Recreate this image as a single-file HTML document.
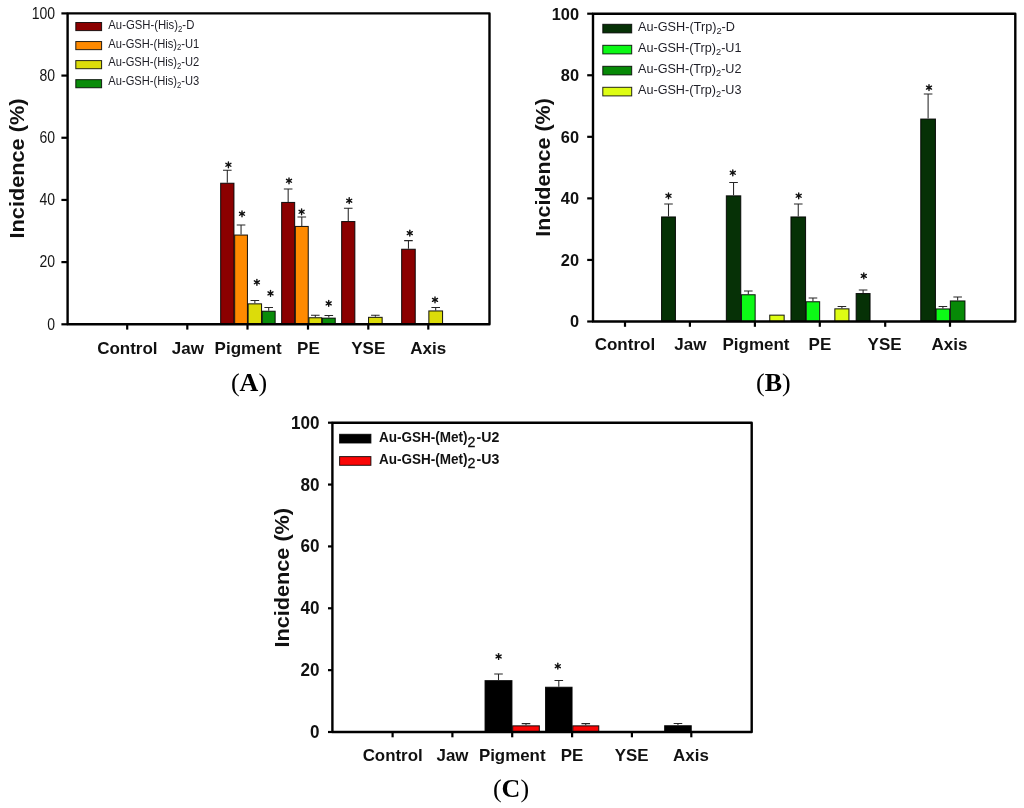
<!DOCTYPE html><html><head><meta charset="utf-8"><title>Incidence charts</title>
<style>html,body{margin:0;padding:0;background:#fff}body{width:1024px;height:808px;overflow:hidden}svg{display:block;filter:blur(0.45px)}</style></head><body>
<svg width="1024" height="808" viewBox="0 0 1024 808">
<rect width="1024" height="808" fill="#fff"/>
<rect x="220.65" y="183.25" width="13.30" height="141.05" fill="#8b0000" stroke="#000" stroke-opacity="0.88" stroke-width="1.05"/>
<path d="M227.30 182.70V170.30M223.00 170.30H231.60" stroke="#262626" stroke-width="1.05" fill="none"/>
<g stroke="#111" stroke-width="1.4" stroke-linecap="round"><line x1="228.40" y1="161.90" x2="228.40" y2="167.70"/><line x1="225.89" y1="163.35" x2="230.91" y2="166.25"/><line x1="225.89" y1="166.25" x2="230.91" y2="163.35"/></g><circle cx="228.4" cy="164.8" r="1.2" fill="#111"/>
<rect x="234.65" y="235.05" width="12.80" height="89.25" fill="#ff8a00" stroke="#000" stroke-opacity="0.88" stroke-width="1.05"/>
<path d="M241.05 234.50V224.90M236.75 224.90H245.35" stroke="#262626" stroke-width="1.05" fill="none"/>
<g stroke="#111" stroke-width="1.4" stroke-linecap="round"><line x1="242.00" y1="210.90" x2="242.00" y2="216.70"/><line x1="239.49" y1="212.35" x2="244.51" y2="215.25"/><line x1="239.49" y1="215.25" x2="244.51" y2="212.35"/></g><circle cx="242.0" cy="213.8" r="1.2" fill="#111"/>
<rect x="248.15" y="303.85" width="13.40" height="20.45" fill="#dcdc0a" stroke="#000" stroke-opacity="0.88" stroke-width="1.05"/>
<path d="M254.85 303.30V300.50M250.55 300.50H259.15" stroke="#262626" stroke-width="1.05" fill="none"/>
<g stroke="#111" stroke-width="1.4" stroke-linecap="round"><line x1="256.90" y1="279.40" x2="256.90" y2="285.20"/><line x1="254.39" y1="280.85" x2="259.41" y2="283.75"/><line x1="254.39" y1="283.75" x2="259.41" y2="280.85"/></g><circle cx="256.9" cy="282.3" r="1.2" fill="#111"/>
<rect x="262.25" y="311.25" width="12.90" height="13.05" fill="#0a8c0a" stroke="#000" stroke-opacity="0.88" stroke-width="1.05"/>
<path d="M268.70 310.70V307.50M264.40 307.50H273.00" stroke="#262626" stroke-width="1.05" fill="none"/>
<g stroke="#111" stroke-width="1.4" stroke-linecap="round"><line x1="270.50" y1="290.50" x2="270.50" y2="296.30"/><line x1="267.99" y1="291.95" x2="273.01" y2="294.85"/><line x1="267.99" y1="294.85" x2="273.01" y2="291.95"/></g><circle cx="270.5" cy="293.4" r="1.2" fill="#111"/>
<rect x="281.65" y="202.45" width="13.00" height="121.85" fill="#8b0000" stroke="#000" stroke-opacity="0.88" stroke-width="1.05"/>
<path d="M288.15 201.90V189.00M283.85 189.00H292.45" stroke="#262626" stroke-width="1.05" fill="none"/>
<g stroke="#111" stroke-width="1.4" stroke-linecap="round"><line x1="289.00" y1="177.90" x2="289.00" y2="183.70"/><line x1="286.49" y1="179.35" x2="291.51" y2="182.25"/><line x1="286.49" y1="182.25" x2="291.51" y2="179.35"/></g><circle cx="289.0" cy="180.8" r="1.2" fill="#111"/>
<rect x="295.35" y="226.45" width="12.90" height="97.85" fill="#ff8a00" stroke="#000" stroke-opacity="0.88" stroke-width="1.05"/>
<path d="M301.80 225.90V217.00M297.50 217.00H306.10" stroke="#262626" stroke-width="1.05" fill="none"/>
<g stroke="#111" stroke-width="1.4" stroke-linecap="round"><line x1="301.60" y1="208.90" x2="301.60" y2="214.70"/><line x1="299.09" y1="210.35" x2="304.11" y2="213.25"/><line x1="299.09" y1="213.25" x2="304.11" y2="210.35"/></g><circle cx="301.6" cy="211.8" r="1.2" fill="#111"/>
<rect x="308.95" y="317.75" width="12.70" height="6.55" fill="#dcdc0a" stroke="#000" stroke-opacity="0.88" stroke-width="1.05"/>
<path d="M315.30 317.20V315.20M311.00 315.20H319.60" stroke="#262626" stroke-width="1.05" fill="none"/>
<rect x="322.35" y="318.15" width="12.90" height="6.15" fill="#0a8c0a" stroke="#000" stroke-opacity="0.88" stroke-width="1.05"/>
<path d="M328.80 317.60V315.50M324.50 315.50H333.10" stroke="#262626" stroke-width="1.05" fill="none"/>
<g stroke="#111" stroke-width="1.4" stroke-linecap="round"><line x1="328.70" y1="300.50" x2="328.70" y2="306.30"/><line x1="326.19" y1="301.95" x2="331.21" y2="304.85"/><line x1="326.19" y1="304.85" x2="331.21" y2="301.95"/></g><circle cx="328.7" cy="303.4" r="1.2" fill="#111"/>
<rect x="341.65" y="221.55" width="13.20" height="102.75" fill="#8b0000" stroke="#000" stroke-opacity="0.88" stroke-width="1.05"/>
<path d="M348.25 221.00V208.20M343.95 208.20H352.55" stroke="#262626" stroke-width="1.05" fill="none"/>
<g stroke="#111" stroke-width="1.4" stroke-linecap="round"><line x1="349.20" y1="197.80" x2="349.20" y2="203.60"/><line x1="346.69" y1="199.25" x2="351.71" y2="202.15"/><line x1="346.69" y1="202.15" x2="351.71" y2="199.25"/></g><circle cx="349.2" cy="200.7" r="1.2" fill="#111"/>
<rect x="368.55" y="317.35" width="13.60" height="6.95" fill="#dcdc0a" stroke="#000" stroke-opacity="0.88" stroke-width="1.05"/>
<path d="M375.35 316.80V315.20M371.05 315.20H379.65" stroke="#262626" stroke-width="1.05" fill="none"/>
<rect x="401.65" y="249.25" width="13.60" height="75.05" fill="#8b0000" stroke="#000" stroke-opacity="0.88" stroke-width="1.05"/>
<path d="M408.45 248.70V240.60M404.15 240.60H412.75" stroke="#262626" stroke-width="1.05" fill="none"/>
<g stroke="#111" stroke-width="1.4" stroke-linecap="round"><line x1="409.80" y1="230.20" x2="409.80" y2="236.00"/><line x1="407.29" y1="231.65" x2="412.31" y2="234.55"/><line x1="407.29" y1="234.55" x2="412.31" y2="231.65"/></g><circle cx="409.8" cy="233.1" r="1.2" fill="#111"/>
<rect x="428.85" y="310.95" width="13.70" height="13.35" fill="#dcdc0a" stroke="#000" stroke-opacity="0.88" stroke-width="1.05"/>
<path d="M435.70 310.40V307.40M431.40 307.40H440.00" stroke="#262626" stroke-width="1.05" fill="none"/>
<g stroke="#111" stroke-width="1.4" stroke-linecap="round"><line x1="435.00" y1="297.00" x2="435.00" y2="302.80"/><line x1="432.49" y1="298.45" x2="437.51" y2="301.35"/><line x1="432.49" y1="301.35" x2="437.51" y2="298.45"/></g><circle cx="435.0" cy="299.9" r="1.2" fill="#111"/>
<rect x="67.6" y="13.4" width="421.90" height="310.90" fill="none" stroke="#000" stroke-width="2.4" stroke-linejoin="round"/>
<line x1="61.4" y1="324.3" x2="67.6" y2="324.3" stroke="#000" stroke-width="2.2"/>
<text x="55.1" y="329.6" font-family='"Liberation Sans", sans-serif' font-size="15.6" font-weight="normal" text-anchor="end" fill="#151515" textLength="7.8" lengthAdjust="spacingAndGlyphs" >0</text>
<line x1="61.4" y1="262.12" x2="67.6" y2="262.12" stroke="#000" stroke-width="2.2"/>
<text x="55.1" y="267.42" font-family='"Liberation Sans", sans-serif' font-size="15.6" font-weight="normal" text-anchor="end" fill="#151515" textLength="15.6" lengthAdjust="spacingAndGlyphs" >20</text>
<line x1="61.4" y1="199.94" x2="67.6" y2="199.94" stroke="#000" stroke-width="2.2"/>
<text x="55.1" y="205.24" font-family='"Liberation Sans", sans-serif' font-size="15.6" font-weight="normal" text-anchor="end" fill="#151515" textLength="15.6" lengthAdjust="spacingAndGlyphs" >40</text>
<line x1="61.4" y1="137.76000000000002" x2="67.6" y2="137.76000000000002" stroke="#000" stroke-width="2.2"/>
<text x="55.1" y="143.06000000000003" font-family='"Liberation Sans", sans-serif' font-size="15.6" font-weight="normal" text-anchor="end" fill="#151515" textLength="15.6" lengthAdjust="spacingAndGlyphs" >60</text>
<line x1="61.4" y1="75.58000000000001" x2="67.6" y2="75.58000000000001" stroke="#000" stroke-width="2.2"/>
<text x="55.1" y="80.88000000000001" font-family='"Liberation Sans", sans-serif' font-size="15.6" font-weight="normal" text-anchor="end" fill="#151515" textLength="15.6" lengthAdjust="spacingAndGlyphs" >80</text>
<line x1="61.4" y1="13.400000000000034" x2="67.6" y2="13.400000000000034" stroke="#000" stroke-width="2.2"/>
<text x="55.1" y="18.700000000000035" font-family='"Liberation Sans", sans-serif' font-size="15.6" font-weight="normal" text-anchor="end" fill="#151515" textLength="23.4" lengthAdjust="spacingAndGlyphs" >100</text>
<line x1="127.2" y1="324.3" x2="127.2" y2="329.6" stroke="#000" stroke-width="2.2"/>
<line x1="187.3" y1="324.3" x2="187.3" y2="329.6" stroke="#000" stroke-width="2.2"/>
<line x1="247.5" y1="324.3" x2="247.5" y2="329.6" stroke="#000" stroke-width="2.2"/>
<line x1="308.0" y1="324.3" x2="308.0" y2="329.6" stroke="#000" stroke-width="2.2"/>
<line x1="368.3" y1="324.3" x2="368.3" y2="329.6" stroke="#000" stroke-width="2.2"/>
<line x1="428.3" y1="324.3" x2="428.3" y2="329.6" stroke="#000" stroke-width="2.2"/>
<text x="127.35" y="353.9" font-family='"Liberation Sans", sans-serif' font-size="17" font-weight="bold" text-anchor="middle" fill="#111" >Control</text>
<text x="187.9" y="353.9" font-family='"Liberation Sans", sans-serif' font-size="17" font-weight="bold" text-anchor="middle" fill="#111" >Jaw</text>
<text x="248.15" y="353.9" font-family='"Liberation Sans", sans-serif' font-size="17" font-weight="bold" text-anchor="middle" fill="#111" >Pigment</text>
<text x="308.4" y="353.9" font-family='"Liberation Sans", sans-serif' font-size="17" font-weight="bold" text-anchor="middle" fill="#111" >PE</text>
<text x="368.3" y="353.9" font-family='"Liberation Sans", sans-serif' font-size="17" font-weight="bold" text-anchor="middle" fill="#111" >YSE</text>
<text x="428.15" y="353.9" font-family='"Liberation Sans", sans-serif' font-size="17" font-weight="bold" text-anchor="middle" fill="#111" >Axis</text>
<text transform="translate(24.4,168.5) rotate(-90)" font-family='"Liberation Sans", sans-serif' font-size="20" font-weight="bold" text-anchor="middle" fill="#111" textLength="140" lengthAdjust="spacingAndGlyphs">Incidence (%)</text>
<rect x="75.8" y="22.50" width="25.8" height="8.1" fill="#8b0000" stroke="#000" stroke-opacity="0.85" stroke-width="1"/>
<text x="108.3" y="28.9" font-family='"Liberation Sans", sans-serif' font-size="13.5" font-weight="normal" text-anchor="start" fill="#1e1e26" textLength="86" lengthAdjust="spacingAndGlyphs" >Au-GSH-(His)<tspan font-size="9.3" dy="2.8">2</tspan><tspan dy="-2.8">-D</tspan></text>
<rect x="75.8" y="41.55" width="25.8" height="8.1" fill="#ff8a00" stroke="#000" stroke-opacity="0.85" stroke-width="1"/>
<text x="108.3" y="47.5" font-family='"Liberation Sans", sans-serif' font-size="13.5" font-weight="normal" text-anchor="start" fill="#1e1e26" textLength="91" lengthAdjust="spacingAndGlyphs" >Au-GSH-(His)<tspan font-size="9.3" dy="2.8">2</tspan><tspan dy="-2.8">-U1</tspan></text>
<rect x="75.8" y="60.60" width="25.8" height="8.1" fill="#dcdc0a" stroke="#000" stroke-opacity="0.85" stroke-width="1"/>
<text x="108.3" y="66.1" font-family='"Liberation Sans", sans-serif' font-size="13.5" font-weight="normal" text-anchor="start" fill="#1e1e26" textLength="91" lengthAdjust="spacingAndGlyphs" >Au-GSH-(His)<tspan font-size="9.3" dy="2.8">2</tspan><tspan dy="-2.8">-U2</tspan></text>
<rect x="75.8" y="79.65" width="25.8" height="8.1" fill="#0a8c0a" stroke="#000" stroke-opacity="0.85" stroke-width="1"/>
<text x="108.3" y="84.7" font-family='"Liberation Sans", sans-serif' font-size="13.5" font-weight="normal" text-anchor="start" fill="#1e1e26" textLength="91" lengthAdjust="spacingAndGlyphs" >Au-GSH-(His)<tspan font-size="9.3" dy="2.8">2</tspan><tspan dy="-2.8">-U3</tspan></text>
<text x="249" y="390.7" font-family='"Liberation Serif", serif' font-size="26" font-weight="normal" text-anchor="middle" fill="#000" >(<tspan font-weight="bold">A</tspan>)</text>
<rect x="661.55" y="216.95" width="13.90" height="104.55" fill="#063106" stroke="#000" stroke-opacity="0.88" stroke-width="1.05"/>
<path d="M668.50 216.40V204.00M664.20 204.00H672.80" stroke="#262626" stroke-width="1.05" fill="none"/>
<g stroke="#111" stroke-width="1.4" stroke-linecap="round"><line x1="668.50" y1="192.90" x2="668.50" y2="198.70"/><line x1="665.99" y1="194.35" x2="671.01" y2="197.25"/><line x1="665.99" y1="197.25" x2="671.01" y2="194.35"/></g><circle cx="668.5" cy="195.8" r="1.2" fill="#111"/>
<rect x="726.35" y="195.85" width="14.40" height="125.65" fill="#063106" stroke="#000" stroke-opacity="0.88" stroke-width="1.05"/>
<path d="M733.55 195.30V182.40M729.25 182.40H737.85" stroke="#262626" stroke-width="1.05" fill="none"/>
<g stroke="#111" stroke-width="1.4" stroke-linecap="round"><line x1="732.80" y1="169.90" x2="732.80" y2="175.70"/><line x1="730.29" y1="171.35" x2="735.31" y2="174.25"/><line x1="730.29" y1="174.25" x2="735.31" y2="171.35"/></g><circle cx="732.8" cy="172.8" r="1.2" fill="#111"/>
<rect x="741.45" y="294.75" width="13.70" height="26.75" fill="#0cf916" stroke="#000" stroke-opacity="0.88" stroke-width="1.05"/>
<path d="M748.30 294.20V290.90M744.00 290.90H752.60" stroke="#262626" stroke-width="1.05" fill="none"/>
<rect x="769.75" y="315.15" width="14.40" height="6.35" fill="#defd14" stroke="#000" stroke-opacity="0.88" stroke-width="1.05"/>
<rect x="790.95" y="216.95" width="14.60" height="104.55" fill="#063106" stroke="#000" stroke-opacity="0.88" stroke-width="1.05"/>
<path d="M798.25 216.40V204.00M793.95 204.00H802.55" stroke="#262626" stroke-width="1.05" fill="none"/>
<g stroke="#111" stroke-width="1.4" stroke-linecap="round"><line x1="798.70" y1="192.90" x2="798.70" y2="198.70"/><line x1="796.19" y1="194.35" x2="801.21" y2="197.25"/><line x1="796.19" y1="197.25" x2="801.21" y2="194.35"/></g><circle cx="798.7" cy="195.8" r="1.2" fill="#111"/>
<rect x="806.25" y="301.75" width="13.40" height="19.75" fill="#0cf916" stroke="#000" stroke-opacity="0.88" stroke-width="1.05"/>
<path d="M812.95 301.20V298.00M808.65 298.00H817.25" stroke="#262626" stroke-width="1.05" fill="none"/>
<rect x="834.85" y="308.85" width="14.10" height="12.65" fill="#defd14" stroke="#000" stroke-opacity="0.88" stroke-width="1.05"/>
<path d="M841.90 308.30V306.40M837.60 306.40H846.20" stroke="#262626" stroke-width="1.05" fill="none"/>
<rect x="856.15" y="293.55" width="13.90" height="27.95" fill="#063106" stroke="#000" stroke-opacity="0.88" stroke-width="1.05"/>
<path d="M863.10 293.00V290.00M858.80 290.00H867.40" stroke="#262626" stroke-width="1.05" fill="none"/>
<g stroke="#111" stroke-width="1.4" stroke-linecap="round"><line x1="863.80" y1="273.00" x2="863.80" y2="278.80"/><line x1="861.29" y1="274.45" x2="866.31" y2="277.35"/><line x1="861.29" y1="277.35" x2="866.31" y2="274.45"/></g><circle cx="863.8" cy="275.9" r="1.2" fill="#111"/>
<rect x="920.75" y="119.05" width="14.70" height="202.45" fill="#063106" stroke="#000" stroke-opacity="0.88" stroke-width="1.05"/>
<path d="M928.10 118.50V94.00M923.80 94.00H932.40" stroke="#262626" stroke-width="1.05" fill="none"/>
<g stroke="#111" stroke-width="1.4" stroke-linecap="round"><line x1="929.00" y1="84.70" x2="929.00" y2="90.50"/><line x1="926.49" y1="86.15" x2="931.51" y2="89.05"/><line x1="926.49" y1="89.05" x2="931.51" y2="86.15"/></g><circle cx="929.0" cy="87.6" r="1.2" fill="#111"/>
<rect x="936.15" y="308.95" width="13.50" height="12.55" fill="#0cf916" stroke="#000" stroke-opacity="0.88" stroke-width="1.05"/>
<path d="M942.90 308.40V306.40M938.60 306.40H947.20" stroke="#262626" stroke-width="1.05" fill="none"/>
<rect x="950.35" y="300.95" width="14.60" height="20.55" fill="#078907" stroke="#000" stroke-opacity="0.88" stroke-width="1.05"/>
<path d="M957.65 300.40V297.00M953.35 297.00H961.95" stroke="#262626" stroke-width="1.05" fill="none"/>
<rect x="593.0" y="13.7" width="422.30" height="307.80" fill="none" stroke="#000" stroke-width="2.4" stroke-linejoin="round"/>
<line x1="587.2" y1="321.5" x2="593.0" y2="321.5" stroke="#000" stroke-width="2.2"/>
<text x="579.0" y="327.4" font-family='"Liberation Sans", sans-serif' font-size="17.2" font-weight="bold" text-anchor="end" fill="#111" textLength="9.1" lengthAdjust="spacingAndGlyphs" >0</text>
<line x1="587.2" y1="259.94" x2="593.0" y2="259.94" stroke="#000" stroke-width="2.2"/>
<text x="579.0" y="265.84" font-family='"Liberation Sans", sans-serif' font-size="17.2" font-weight="bold" text-anchor="end" fill="#111" textLength="18.2" lengthAdjust="spacingAndGlyphs" >20</text>
<line x1="587.2" y1="198.38" x2="593.0" y2="198.38" stroke="#000" stroke-width="2.2"/>
<text x="579.0" y="204.28" font-family='"Liberation Sans", sans-serif' font-size="17.2" font-weight="bold" text-anchor="end" fill="#111" textLength="18.2" lengthAdjust="spacingAndGlyphs" >40</text>
<line x1="587.2" y1="136.82000000000002" x2="593.0" y2="136.82000000000002" stroke="#000" stroke-width="2.2"/>
<text x="579.0" y="142.72000000000003" font-family='"Liberation Sans", sans-serif' font-size="17.2" font-weight="bold" text-anchor="end" fill="#111" textLength="18.2" lengthAdjust="spacingAndGlyphs" >60</text>
<line x1="587.2" y1="75.26000000000002" x2="593.0" y2="75.26000000000002" stroke="#000" stroke-width="2.2"/>
<text x="579.0" y="81.16000000000003" font-family='"Liberation Sans", sans-serif' font-size="17.2" font-weight="bold" text-anchor="end" fill="#111" textLength="18.2" lengthAdjust="spacingAndGlyphs" >80</text>
<line x1="587.2" y1="13.699999999999989" x2="593.0" y2="13.699999999999989" stroke="#000" stroke-width="2.2"/>
<text x="579.0" y="19.599999999999987" font-family='"Liberation Sans", sans-serif' font-size="17.2" font-weight="bold" text-anchor="end" fill="#111" textLength="27.3" lengthAdjust="spacingAndGlyphs" >100</text>
<line x1="625.0" y1="321.5" x2="625.0" y2="326.8" stroke="#000" stroke-width="2.2"/>
<line x1="689.9" y1="321.5" x2="689.9" y2="326.8" stroke="#000" stroke-width="2.2"/>
<line x1="754.9" y1="321.5" x2="754.9" y2="326.8" stroke="#000" stroke-width="2.2"/>
<line x1="819.8" y1="321.5" x2="819.8" y2="326.8" stroke="#000" stroke-width="2.2"/>
<line x1="885.2" y1="321.5" x2="885.2" y2="326.8" stroke="#000" stroke-width="2.2"/>
<line x1="950.0" y1="321.5" x2="950.0" y2="326.8" stroke="#000" stroke-width="2.2"/>
<text x="624.9" y="349.9" font-family='"Liberation Sans", sans-serif' font-size="17" font-weight="bold" text-anchor="middle" fill="#111" >Control</text>
<text x="690.4" y="349.9" font-family='"Liberation Sans", sans-serif' font-size="17" font-weight="bold" text-anchor="middle" fill="#111" >Jaw</text>
<text x="756.0" y="349.9" font-family='"Liberation Sans", sans-serif' font-size="17" font-weight="bold" text-anchor="middle" fill="#111" >Pigment</text>
<text x="819.9" y="349.9" font-family='"Liberation Sans", sans-serif' font-size="17" font-weight="bold" text-anchor="middle" fill="#111" >PE</text>
<text x="884.6" y="349.9" font-family='"Liberation Sans", sans-serif' font-size="17" font-weight="bold" text-anchor="middle" fill="#111" >YSE</text>
<text x="949.4" y="349.9" font-family='"Liberation Sans", sans-serif' font-size="17" font-weight="bold" text-anchor="middle" fill="#111" >Axis</text>
<text transform="translate(550.1,167.4) rotate(-90)" font-family='"Liberation Sans", sans-serif' font-size="20" font-weight="bold" text-anchor="middle" fill="#111" textLength="138.5" lengthAdjust="spacingAndGlyphs">Incidence (%)</text>
<rect x="602.8" y="24.30" width="28.9" height="8.6" fill="#063106" stroke="#000" stroke-opacity="0.85" stroke-width="1"/>
<text x="638.0" y="30.9" font-family='"Liberation Sans", sans-serif' font-size="13.0" font-weight="normal" text-anchor="start" fill="#1e1e26" textLength="97" lengthAdjust="spacingAndGlyphs" >Au-GSH-(Trp)<tspan font-size="9.5" dy="2.8">2</tspan><tspan dy="-2.8">-D</tspan></text>
<rect x="602.8" y="45.30" width="28.9" height="8.6" fill="#0cf916" stroke="#000" stroke-opacity="0.85" stroke-width="1"/>
<text x="638.0" y="51.9" font-family='"Liberation Sans", sans-serif' font-size="13.0" font-weight="normal" text-anchor="start" fill="#1e1e26" textLength="103.5" lengthAdjust="spacingAndGlyphs" >Au-GSH-(Trp)<tspan font-size="9.5" dy="2.8">2</tspan><tspan dy="-2.8">-U1</tspan></text>
<rect x="602.8" y="66.30" width="28.9" height="8.6" fill="#078907" stroke="#000" stroke-opacity="0.85" stroke-width="1"/>
<text x="638.0" y="72.89999999999999" font-family='"Liberation Sans", sans-serif' font-size="13.0" font-weight="normal" text-anchor="start" fill="#1e1e26" textLength="103.5" lengthAdjust="spacingAndGlyphs" >Au-GSH-(Trp)<tspan font-size="9.5" dy="2.8">2</tspan><tspan dy="-2.8">-U2</tspan></text>
<rect x="602.8" y="87.30" width="28.9" height="8.6" fill="#defd14" stroke="#000" stroke-opacity="0.85" stroke-width="1"/>
<text x="638.0" y="93.89999999999999" font-family='"Liberation Sans", sans-serif' font-size="13.0" font-weight="normal" text-anchor="start" fill="#1e1e26" textLength="103.5" lengthAdjust="spacingAndGlyphs" >Au-GSH-(Trp)<tspan font-size="9.5" dy="2.8">2</tspan><tspan dy="-2.8">-U3</tspan></text>
<text x="773.4" y="390.9" font-family='"Liberation Serif", serif' font-size="26" font-weight="normal" text-anchor="middle" fill="#000" >(<tspan font-weight="bold">B</tspan>)</text>
<rect x="485.05" y="680.65" width="26.90" height="51.35" fill="#000" stroke="#000" stroke-opacity="0.88" stroke-width="1.05"/>
<path d="M498.50 680.10V674.00M494.20 674.00H502.80" stroke="#262626" stroke-width="1.05" fill="none"/>
<g stroke="#111" stroke-width="1.4" stroke-linecap="round"><line x1="498.60" y1="653.60" x2="498.60" y2="659.40"/><line x1="496.09" y1="655.05" x2="501.11" y2="657.95"/><line x1="496.09" y1="657.95" x2="501.11" y2="655.05"/></g><circle cx="498.6" cy="656.5" r="1.2" fill="#111"/>
<rect x="512.65" y="725.85" width="26.70" height="6.15" fill="#fa0606" stroke="#000" stroke-opacity="0.88" stroke-width="1.05"/>
<path d="M526.00 725.30V723.60M521.70 723.60H530.30" stroke="#262626" stroke-width="1.05" fill="none"/>
<rect x="545.55" y="687.25" width="26.50" height="44.75" fill="#000" stroke="#000" stroke-opacity="0.88" stroke-width="1.05"/>
<path d="M558.80 686.70V680.40M554.50 680.40H563.10" stroke="#262626" stroke-width="1.05" fill="none"/>
<g stroke="#111" stroke-width="1.4" stroke-linecap="round"><line x1="557.80" y1="663.30" x2="557.80" y2="669.10"/><line x1="555.29" y1="664.75" x2="560.31" y2="667.65"/><line x1="555.29" y1="667.65" x2="560.31" y2="664.75"/></g><circle cx="557.8" cy="666.2" r="1.2" fill="#111"/>
<rect x="572.75" y="725.85" width="26.00" height="6.15" fill="#fa0606" stroke="#000" stroke-opacity="0.88" stroke-width="1.05"/>
<path d="M585.75 725.30V723.60M581.45 723.60H590.05" stroke="#262626" stroke-width="1.05" fill="none"/>
<rect x="664.65" y="725.75" width="26.60" height="6.25" fill="#000" stroke="#000" stroke-opacity="0.88" stroke-width="1.05"/>
<path d="M677.95 725.20V723.40M673.65 723.40H682.25" stroke="#262626" stroke-width="1.05" fill="none"/>
<rect x="332.4" y="422.7" width="419.30" height="309.30" fill="none" stroke="#000" stroke-width="2.4" stroke-linejoin="round"/>
<line x1="328.0" y1="732.0" x2="332.4" y2="732.0" stroke="#000" stroke-width="2.2"/>
<text x="319.5" y="738.0" font-family='"Liberation Sans", sans-serif' font-size="17.6" font-weight="bold" text-anchor="end" fill="#111" textLength="9.5" lengthAdjust="spacingAndGlyphs" >0</text>
<line x1="328.0" y1="670.14" x2="332.4" y2="670.14" stroke="#000" stroke-width="2.2"/>
<text x="319.5" y="676.14" font-family='"Liberation Sans", sans-serif' font-size="17.6" font-weight="bold" text-anchor="end" fill="#111" textLength="19.0" lengthAdjust="spacingAndGlyphs" >20</text>
<line x1="328.0" y1="608.28" x2="332.4" y2="608.28" stroke="#000" stroke-width="2.2"/>
<text x="319.5" y="614.28" font-family='"Liberation Sans", sans-serif' font-size="17.6" font-weight="bold" text-anchor="end" fill="#111" textLength="19.0" lengthAdjust="spacingAndGlyphs" >40</text>
<line x1="328.0" y1="546.4200000000001" x2="332.4" y2="546.4200000000001" stroke="#000" stroke-width="2.2"/>
<text x="319.5" y="552.4200000000001" font-family='"Liberation Sans", sans-serif' font-size="17.6" font-weight="bold" text-anchor="end" fill="#111" textLength="19.0" lengthAdjust="spacingAndGlyphs" >60</text>
<line x1="328.0" y1="484.56" x2="332.4" y2="484.56" stroke="#000" stroke-width="2.2"/>
<text x="319.5" y="490.56" font-family='"Liberation Sans", sans-serif' font-size="17.6" font-weight="bold" text-anchor="end" fill="#111" textLength="19.0" lengthAdjust="spacingAndGlyphs" >80</text>
<line x1="328.0" y1="422.7" x2="332.4" y2="422.7" stroke="#000" stroke-width="2.2"/>
<text x="319.5" y="428.7" font-family='"Liberation Sans", sans-serif' font-size="17.6" font-weight="bold" text-anchor="end" fill="#111" textLength="28.5" lengthAdjust="spacingAndGlyphs" >100</text>
<line x1="392.6" y1="732.0" x2="392.6" y2="737.3" stroke="#000" stroke-width="2.2"/>
<line x1="452.4" y1="732.0" x2="452.4" y2="737.3" stroke="#000" stroke-width="2.2"/>
<line x1="512.2" y1="732.0" x2="512.2" y2="737.3" stroke="#000" stroke-width="2.2"/>
<line x1="572.1" y1="732.0" x2="572.1" y2="737.3" stroke="#000" stroke-width="2.2"/>
<line x1="631.9" y1="732.0" x2="631.9" y2="737.3" stroke="#000" stroke-width="2.2"/>
<line x1="691.3" y1="732.0" x2="691.3" y2="737.3" stroke="#000" stroke-width="2.2"/>
<text x="392.65" y="760.6" font-family='"Liberation Sans", sans-serif' font-size="16.9" font-weight="bold" text-anchor="middle" fill="#111" >Control</text>
<text x="452.5" y="760.6" font-family='"Liberation Sans", sans-serif' font-size="16.9" font-weight="bold" text-anchor="middle" fill="#111" >Jaw</text>
<text x="512.2" y="760.6" font-family='"Liberation Sans", sans-serif' font-size="16.9" font-weight="bold" text-anchor="middle" fill="#111" >Pigment</text>
<text x="571.9" y="760.6" font-family='"Liberation Sans", sans-serif' font-size="16.9" font-weight="bold" text-anchor="middle" fill="#111" >PE</text>
<text x="631.65" y="760.6" font-family='"Liberation Sans", sans-serif' font-size="16.9" font-weight="bold" text-anchor="middle" fill="#111" >YSE</text>
<text x="690.95" y="760.6" font-family='"Liberation Sans", sans-serif' font-size="16.9" font-weight="bold" text-anchor="middle" fill="#111" >Axis</text>
<text transform="translate(289.1,577.7) rotate(-90)" font-family='"Liberation Sans", sans-serif' font-size="20" font-weight="bold" text-anchor="middle" fill="#111" textLength="139.5" lengthAdjust="spacingAndGlyphs">Incidence (%)</text>
<rect x="339.6" y="434.30" width="31.3" height="8.7" fill="#000" stroke="#000" stroke-opacity="0.85" stroke-width="1"/>
<text x="379.0" y="441.7" font-family='"Liberation Sans", sans-serif' font-size="14" font-weight="bold" text-anchor="start" fill="#111" textLength="88.5" lengthAdjust="spacingAndGlyphs" >Au-GSH-(Met)</text>
<text x="467.6" y="446.5" font-family='"Liberation Sans", sans-serif' font-size="14.2" font-weight="normal" text-anchor="start" fill="#111" stroke="#111" stroke-width="0.35">2</text>
<text x="476.6" y="441.7" font-family='"Liberation Sans", sans-serif' font-size="14" font-weight="bold" text-anchor="start" fill="#111" textLength="22.8" lengthAdjust="spacingAndGlyphs" >-U2</text>
<rect x="339.6" y="456.60" width="31.3" height="8.7" fill="#fa0606" stroke="#000" stroke-opacity="0.85" stroke-width="1"/>
<text x="379.0" y="463.5" font-family='"Liberation Sans", sans-serif' font-size="14" font-weight="bold" text-anchor="start" fill="#111" textLength="88.5" lengthAdjust="spacingAndGlyphs" >Au-GSH-(Met)</text>
<text x="467.6" y="468.3" font-family='"Liberation Sans", sans-serif' font-size="14.2" font-weight="normal" text-anchor="start" fill="#111" stroke="#111" stroke-width="0.35">2</text>
<text x="476.6" y="463.5" font-family='"Liberation Sans", sans-serif' font-size="14" font-weight="bold" text-anchor="start" fill="#111" textLength="22.8" lengthAdjust="spacingAndGlyphs" >-U3</text>
<text x="511" y="797.0" font-family='"Liberation Serif", serif' font-size="26" font-weight="normal" text-anchor="middle" fill="#000" >(<tspan font-weight="bold">C</tspan>)</text>
</svg></body></html>
